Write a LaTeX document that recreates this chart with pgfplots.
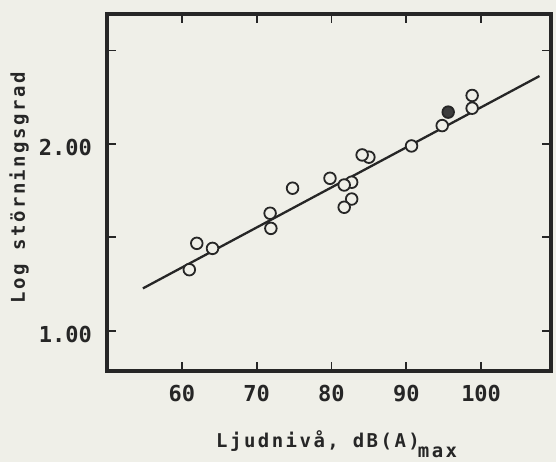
\documentclass[border=0pt]{standalone}
\usepackage{pgfplots}
\pgfplotsset{compat=1.18}
\usepackage{fontspec}
\setmainfont{DejaVu Sans Mono}
\newfontfamily\labfont[LetterSpace=13]{DejaVu Sans Mono}
\newfontfamily\tckfont{DejaVu Sans Mono}
\definecolor{paper}{RGB}{239,239,232}
\definecolor{ink}{RGB}{38,38,38}
\begin{document}
\begin{tikzpicture}
\path[use as bounding box, fill=paper] (-107pt,-91pt) rectangle (449pt,371pt);
\begin{axis}[
  at={(0pt,0pt)}, anchor=south west,
  scale only axis, width=444pt, height=357pt,
  xmin=50, xmax=109.34, ymin=0.785, ymax=2.695,
  axis line style={line width=3.5pt, ink},
  tick style={line width=1.8pt, ink},
  major tick length=9pt, tick align=inside,
  xtick={60,70,80,90,100}, xticklabels={60,70,80,90,100},
  ytick={1,1.5,2,2.5}, yticklabels={1.00,,2.00,},
  xtick pos=both, ytick pos=both,
  /pgf/number format/assume math mode=true,
  ticklabel style={font=\tckfont\bfseries\fontsize{22}{24}\selectfont, text=ink, inner sep=0pt},
  xticklabel style={anchor=north, yshift=-14pt},
  yticklabel style={anchor=east, xshift=-15pt, yshift=-4pt},
  clip=false,
]
% regression line
\addplot[ink, line width=2.3pt] coordinates {(54.8,1.227) (107.8,2.363)};
% filled point
\addplot[only marks, mark=*, mark size=5.8pt,
  mark options={line width=1.8pt, draw=ink, fill=ink!90}] coordinates {(95.6,2.170)};
% open points
\addplot[only marks, mark=*, mark size=5.8pt,
  mark options={line width=1.8pt, draw=ink, fill=paper}] coordinates {
(61.0,1.327) (62.0,1.468) (64.1,1.441)
(71.8,1.629) (71.9,1.548) (74.8,1.763)
(79.8,1.816) (82.7,1.795) (81.7,1.780)
(82.7,1.705) (81.7,1.661)
(85.0,1.929) (84.1,1.941)
(90.7,1.989) (94.8,2.098)
(98.8,2.191) (98.8,2.259)
};
\end{axis}
\node[anchor=base west, inner sep=0pt, text=ink, font=\labfont\bfseries\fontsize{19}{21}\selectfont]
  at (109pt,-77pt) {Ljudnivå, dB(A)\kern-2pt\raisebox{-10pt}{max}};
\node[anchor=base, rotate=90, inner sep=0pt, text=ink, font=\labfont\bfseries\fontsize{19}{21}\selectfont]
  at (-82pt,183pt) {Log störningsgrad};
\end{tikzpicture}
\end{document}
